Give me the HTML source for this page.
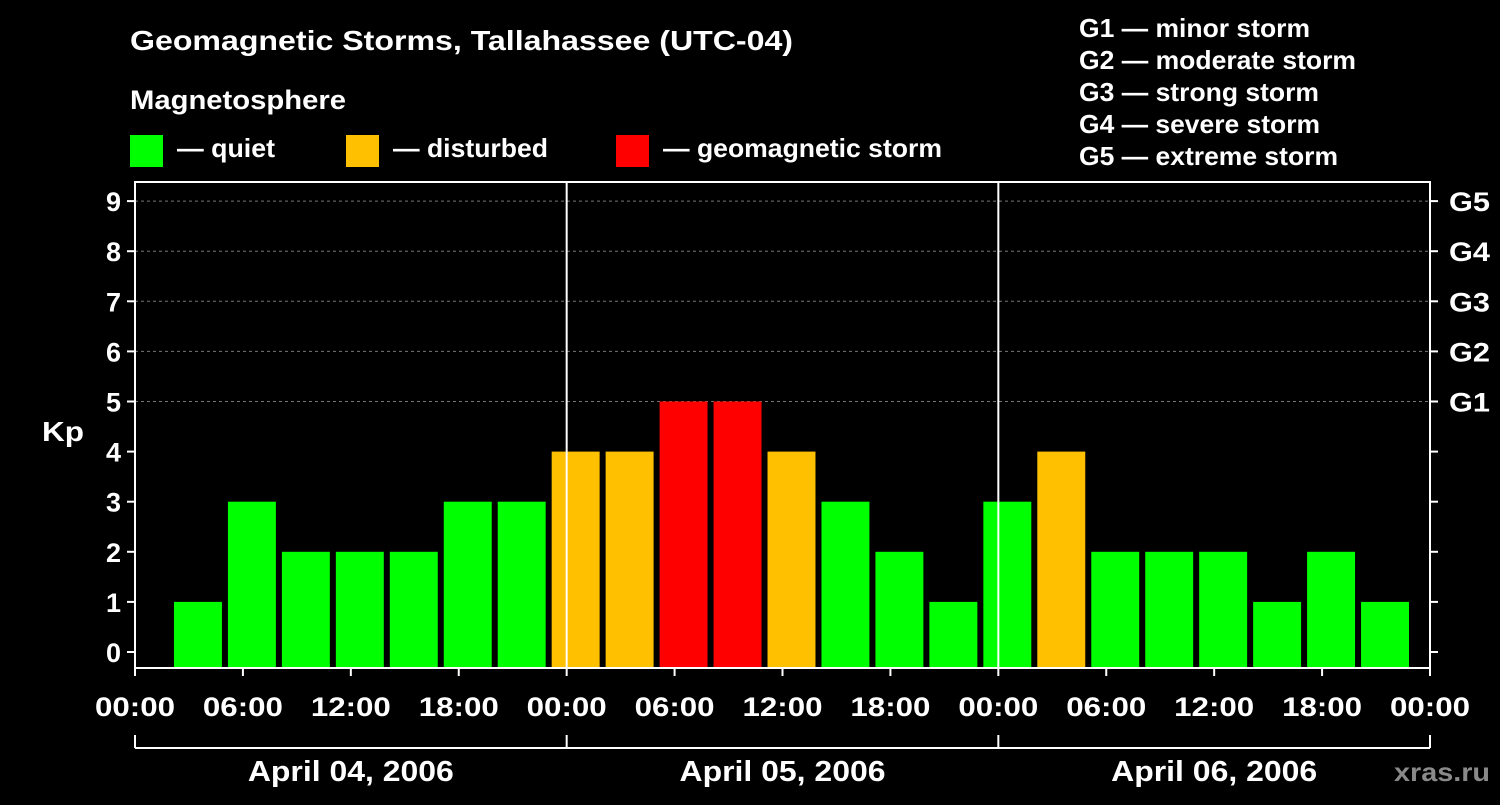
<!DOCTYPE html>
<html><head><meta charset="utf-8"><style>
body{margin:0;background:#000;width:1500px;height:800px;overflow:hidden}
svg text{font-family:"Liberation Sans",sans-serif;font-weight:bold;fill:#fff}
</style></head><body>
<svg id="c" width="1500" height="800">
<text x="130" y="50" font-size="28" textLength="663" lengthAdjust="spacingAndGlyphs">Geomagnetic Storms, Tallahassee (UTC-04)</text>
<text x="130" y="109" font-size="27" textLength="216" lengthAdjust="spacingAndGlyphs">Magnetosphere</text>
<rect x="130" y="135" width="33" height="32" fill="#00ff00"/>
<text x="177" y="157" font-size="26" textLength="98" lengthAdjust="spacingAndGlyphs">— quiet</text>
<rect x="346" y="135" width="33" height="32" fill="#ffc000"/>
<text x="393" y="157" font-size="26" textLength="155" lengthAdjust="spacingAndGlyphs">— disturbed</text>
<rect x="616" y="135" width="33" height="32" fill="#ff0000"/>
<text x="663" y="157" font-size="26" textLength="279" lengthAdjust="spacingAndGlyphs">— geomagnetic storm</text>
<g font-size="26">
<text x="1079" y="37" textLength="231" lengthAdjust="spacingAndGlyphs">G1 — minor storm</text>
<text x="1079" y="69" textLength="277" lengthAdjust="spacingAndGlyphs">G2 — moderate storm</text>
<text x="1079" y="101" textLength="240" lengthAdjust="spacingAndGlyphs">G3 — strong storm</text>
<text x="1079" y="133" textLength="241" lengthAdjust="spacingAndGlyphs">G4 — severe storm</text>
<text x="1079" y="165" textLength="259" lengthAdjust="spacingAndGlyphs">G5 — extreme storm</text>
</g>
<text x="42" y="441" font-size="28" textLength="42" lengthAdjust="spacingAndGlyphs">Kp</text>
<text x="1394" y="781" font-size="26" textLength="96" lengthAdjust="spacingAndGlyphs" style="fill:#8a8a8a">xras.ru</text>
<g id="plot"></g>
</svg>
<script>
const kpValues=[null,1,3,2,2,2,3,3,4,4,5,5,4,3,2,1,3,4,2,2,2,1,2,1];
const yTicks=[0,1,2,3,4,5,6,7,8,9];
const gLabels=["G1","G2","G3","G4","G5"];
const xTickLabels=["00:00","06:00","12:00","18:00","00:00","06:00","12:00","18:00","00:00","06:00","12:00","18:00","00:00"];
const dayLabels=["April 04, 2006","April 05, 2006","April 06, 2006"];
const NS="http://www.w3.org/2000/svg";
const g=document.getElementById('plot');
const L=135,R=1430,T=182,B=668;
const xs=h=>L+(R-L)*h/72;
const ys=v=>652-v*50.1;
function mk(t,a,txt){const e=document.createElementNS(NS,t);for(const k in a)e.setAttribute(k,a[k]);if(txt!==undefined)e.textContent=txt;g.appendChild(e);return e;}
[5,6,7,8,9].forEach(v=>{const e=mk('line',{x1:L,x2:R,y1:ys(v),y2:ys(v),stroke:'#777','stroke-dasharray':'3,3'});

});
kpValues.forEach((v,k)=>{if(v===null)return;
const c=v>=5?'#ff0000':v===4?'#ffc000':'#00ff00';
const x0=xs(-1+3*k)+3,x1=xs(2+3*k)-3;
const e=mk('rect',{x:x0,y:ys(v),width:x1-x0,height:B-ys(v),fill:c});

});
const f=mk('rect',{x:L,y:T,width:R-L,height:B-T,fill:'none',stroke:'#fff','stroke-width':2});


[24,48].forEach(h=>{const e=mk('line',{x1:xs(h),x2:xs(h),y1:T,y2:B,stroke:'#fff','stroke-width':2});

});
yTicks.forEach(v=>{mk('line',{x1:L-8,x2:L,y1:ys(v),y2:ys(v),stroke:'#fff','stroke-width':2});
mk('line',{x1:R,x2:R+8,y1:ys(v),y2:ys(v),stroke:'#fff','stroke-width':2});
const t=mk('text',{x:L-14,y:ys(v)+10,'font-size':27,'text-anchor':'end'},v);

});
gLabels.forEach((s,i)=>{const t=mk('text',{x:R+19,y:ys(5+i)+10,'font-size':27,textLength:41,lengthAdjust:'spacingAndGlyphs'},s);

});
xTickLabels.forEach((s,i)=>{const x=xs(i*6);
mk('line',{x1:x,x2:x,y1:B,y2:B+8,stroke:'#fff','stroke-width':2});
const t=mk('text',{x:x-40,y:716,'font-size':27,textLength:80,lengthAdjust:'spacingAndGlyphs'},s);

});
mk('line',{x1:L,x2:R,y1:748,y2:748,stroke:'#fff','stroke-width':2});
[0,24,48,72].forEach(h=>mk('line',{x1:xs(h),x2:xs(h),y1:735,y2:748,stroke:'#fff','stroke-width':2}));
dayLabels.forEach((s,i)=>{const t=mk('text',{x:xs(12+24*i)-103,y:781,'font-size':29,textLength:206,lengthAdjust:'spacingAndGlyphs'},s);

});
</script>
</body></html>
